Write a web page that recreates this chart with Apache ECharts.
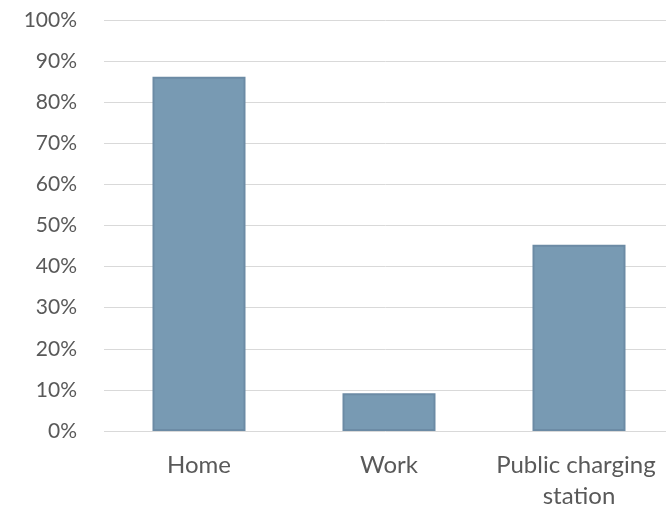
<!DOCTYPE html>
<html>
<head>
<meta charset="utf-8">
<script src="https://cdn.jsdelivr.net/npm/echarts@6/dist/echarts.min.js"></script>
<style>
html,body{margin:0;padding:0;background:#fff;}
#chart{width:666px;height:509px;}
</style>
</head>
<body>
<div id="chart"></div>
<script>
const categories = ['Home', 'Work', 'Public charging station'];
const values = [86.2, 9.2, 45.3];
const yTicks = [0, 10, 20, 30, 40, 50, 60, 70, 80, 90, 100];

const chart = echarts.init(document.getElementById('chart'), null, {renderer: 'canvas'});
chart.setOption({
  animation: false,
  backgroundColor: '#ffffff',
  grid: {left: 104, width: 570, top: 20, height: 411, containLabel: false, outerBoundsMode: 'none'},
  xAxis: {
    type: 'category',
    data: categories,
    axisLine: {show: false},
    axisTick: {show: false},
    axisLabel: {
      color: '#595959',
      fontFamily: 'Lato',
      fontSize: 24,
      margin: 19,
      lineHeight: 31,
      width: 190,
      overflow: 'break',
      interval: 0
    }
  },
  yAxis: {
    type: 'value',
    min: yTicks[0],
    max: yTicks[yTicks.length - 1],
    interval: yTicks[1] - yTicks[0],
    axisLine: {show: false},
    axisTick: {show: false},
    splitLine: {lineStyle: {color: '#d9d9d9', width: 1}},
    axisLabel: {
      color: '#595959',
      fontFamily: 'Lato',
      fontSize: 21,
      margin: 27,
      formatter: v => v + '%'
    }
  },
  series: [{
    type: 'bar',
    data: values,
    barWidth: 93,
    itemStyle: {color: '#789ab3', borderColor: '#6c8ba5', borderWidth: 2}
  }]
});
</script>
</body>
</html>
